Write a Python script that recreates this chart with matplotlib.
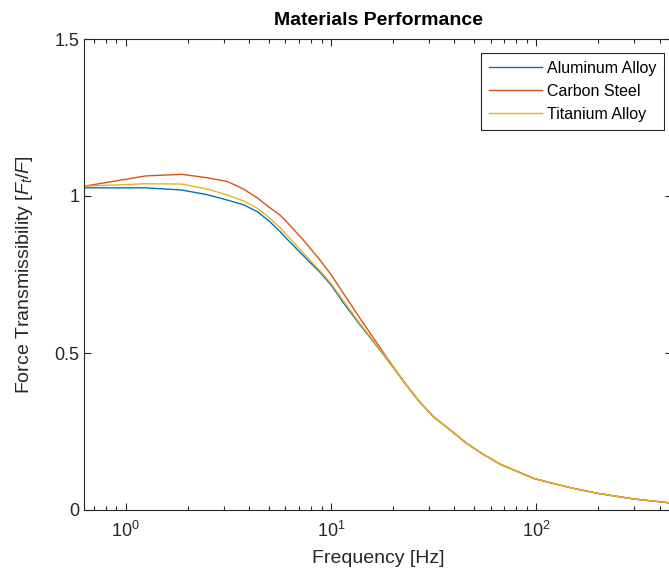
import numpy as np
from matplotlib import pyplot as plt

plt.rcParams['font.family'] = ['Liberation Sans', 'DejaVu Sans']
plt.rcParams['mathtext.fontset'] = 'custom'
plt.rcParams['mathtext.rm'] = 'Liberation Sans'
plt.rcParams['mathtext.it'] = 'Liberation Sans:italic'

# frequency [Hz] and transmissibility
freq = [0.625, 1.25, 1.875, 2.5, 3.125, 3.75, 4.375, 5.0, 5.625, 6.08, 7.33, 8.84, 10.0,
        11.5, 13.8, 15.8, 18.5, 21.7, 23.4, 27.0, 31.6, 38.1, 45.9, 55.0, 66.7,
        97.0, 120.0, 152.0, 200.0, 300.0, 460.0]
aluminum = [1.026, 1.026, 1.019, 1.004, 0.987, 0.972, 0.950, 0.920, 0.888, 0.864, 0.810, 0.757, 0.717,
            0.660, 0.591, 0.543, 0.485, 0.425, 0.396, 0.345, 0.297, 0.255, 0.212, 0.178, 0.146,
            0.101, 0.085, 0.069, 0.053, 0.035, 0.022]
carbon = [1.031, 1.064, 1.069, 1.058, 1.046, 1.022, 0.994, 0.964, 0.940, 0.918, 0.860, 0.796, 0.750,
          0.690, 0.612, 0.556, 0.490, 0.426, 0.397, 0.345, 0.297, 0.255, 0.212, 0.178, 0.146,
          0.101, 0.085, 0.069, 0.053, 0.035, 0.022]
titanium = [1.031, 1.039, 1.038, 1.022, 1.003, 0.984, 0.961, 0.931, 0.900, 0.876, 0.818, 0.762, 0.722,
            0.666, 0.595, 0.546, 0.486, 0.425, 0.396, 0.345, 0.297, 0.255, 0.212, 0.178, 0.146,
            0.101, 0.085, 0.069, 0.053, 0.035, 0.022]

fig = plt.figure(figsize=(6.69, 5.71), dpi=100)
ax = fig.add_axes([84 / 669, 61 / 571, 588 / 669, 471 / 571])

ax.plot(freq, aluminum, color='#0072BD', lw=1.0, label='Aluminum Alloy')
ax.plot(freq, carbon, color='#D95319', lw=1.0, label='Carbon Steel')
ax.plot(freq, titanium, color='#EDB120', lw=1.0, label='Titanium Alloy')

ax.set_xscale('log')
ax.set_xlim(0.625, 460)
ax.set_ylim(0, 1.5)
ax.set_yticks([0, 0.5, 1, 1.5])
ax.set_yticklabels(['0', '0.5', '1', '1.5'])

for s in ax.spines.values():
    s.set_color('#262626')
    s.set_linewidth(0.8)
ax.tick_params(which='both', direction='in', top=True, right=True,
               colors='#262626', labelsize=13, width=0.8)
ax.tick_params(which='major', length=5)
ax.tick_params(which='minor', length=3)
ax.tick_params(axis='x', which='major', pad=8)

ax.set_title('Materials Performance', fontsize=14, fontweight='bold', pad=10)
ax.set_xlabel('Frequency [Hz]', fontsize=14, color='#262626', labelpad=6)
ax.set_ylabel(r'Force Transmissibility [$\mathit{F_t/F}$]', fontsize=14, color='#262626',
              labelpad=14)

leg = ax.legend(loc='upper right', bbox_to_anchor=(664 / 669, 1 - 53 / 571),
                bbox_transform=fig.transFigure, borderaxespad=0, fontsize=11.5,
                fancybox=False, framealpha=1, edgecolor='#262626',
                handlelength=3.3, handletextpad=0.3, labelspacing=0.5, borderpad=0.5)
leg.get_frame().set_linewidth(0.8)

fig.savefig('out.png', dpi=100)
